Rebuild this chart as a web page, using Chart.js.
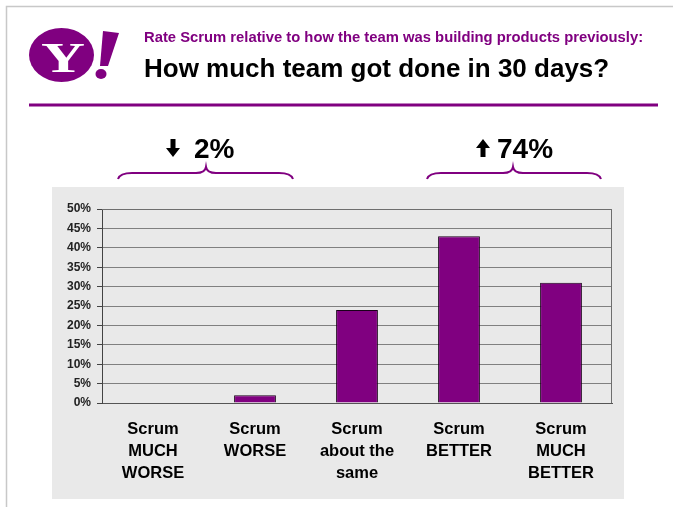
<!DOCTYPE html>
<html>
<head>
<meta charset="utf-8">
<script src="https://cdn.jsdelivr.net/npm/chart.js@4.4.0/dist/chart.umd.min.js"></script>
<style>
  html, body { margin: 0; padding: 0; background: #fff; }
  canvas { display: block; }
</style>
</head>
<body>
<canvas id="scrumChart" width="673" height="507"></canvas>
<script>
// DATA
const categories = [
    ['Scrum', 'MUCH', 'WORSE'],
    ['Scrum', 'WORSE'],
    ['Scrum', 'about the', 'same'],
    ['Scrum', 'BETTER'],
    ['Scrum', 'MUCH', 'BETTER']
];
const shares = [0, 2, 24, 43, 31];
const yMax = 50;
const yStep = 5;
const subtitle = 'Rate Scrum relative to how the team was building products previously:';
const title = 'How much team got done in 30 days?';
const groupTotals = ['2%', '74%'];
const groupDirections = ['down', 'up'];

const purple = '#800080';
const font = '"Liberation Sans", Arial, sans-serif';

// arrow for the group totals
const drawArrow = (c, x, top, dir) => {
    const w = 14, h = 18, shaft = 5, head = 9;
    c.beginPath();
    if (dir === 'down') {
        c.moveTo(x + w / 2 - shaft / 2, top);
        c.lineTo(x + w / 2 + shaft / 2, top);
        c.lineTo(x + w / 2 + shaft / 2, top + h - head);
        c.lineTo(x + w, top + h - head);
        c.lineTo(x + w / 2, top + h);
        c.lineTo(x, top + h - head);
        c.lineTo(x + w / 2 - shaft / 2, top + h - head);
    } else {
        c.moveTo(x + w / 2 - shaft / 2, top + h);
        c.lineTo(x + w / 2 + shaft / 2, top + h);
        c.lineTo(x + w / 2 + shaft / 2, top + head);
        c.lineTo(x + w, top + head);
        c.lineTo(x + w / 2, top);
        c.lineTo(x, top + head);
        c.lineTo(x + w / 2 - shaft / 2, top + head);
    }
    c.closePath();
    c.fillStyle = '#000';
    c.fill();
};

// curly brace over a group of bars
const drawBrace = (c, x1, x2, tip) => {
    const yEnd = 179, yMid = 173, yTip = 167;
    c.beginPath();
    c.moveTo(x1, yEnd);
    c.quadraticCurveTo(x1 + 2, yMid, x1 + 14, yMid);
    c.lineTo(tip - 10, yMid);
    c.quadraticCurveTo(tip - 1, yMid, tip, yTip);
    c.quadraticCurveTo(tip + 1, yMid, tip + 10, yMid);
    c.lineTo(x2 - 14, yMid);
    c.quadraticCurveTo(x2 - 2, yMid, x2, yEnd);
    c.strokeStyle = purple;
    c.lineWidth = 2;
    c.stroke();
};

const slidePlugin = {
    id: 'slide',
    beforeDraw(chart) {
        const c = chart.ctx;
        c.save();
        // frame
        c.strokeStyle = '#c8c8c8';
        c.lineWidth = 1.5;
        c.beginPath();
        c.moveTo(6.5, 507);
        c.lineTo(6.5, 6.5);
        c.lineTo(673, 6.5);
        c.stroke();

        // logo
        c.fillStyle = purple;
        c.beginPath();
        c.ellipse(61.5, 55, 32.5, 27, 0, 0, Math.PI * 2);
        c.fill();
        c.beginPath();
        c.moveTo(103, 31);
        c.lineTo(119, 33);
        c.lineTo(108, 66);
        c.lineTo(100, 66);
        c.closePath();
        c.fill();
        c.beginPath();
        c.ellipse(101, 74, 5.5, 5, 0, 0, Math.PI * 2);
        c.fill();
        c.save();
        c.translate(63, 72);
        c.scale(1.45, 1);
        c.fillStyle = '#fff';
        c.font = 'bold 42px "Liberation Serif", serif';
        c.textAlign = 'center';
        c.textBaseline = 'alphabetic';
        c.fillText('Y', 0, 0);
        c.restore();

        // headings
        c.textAlign = 'left';
        c.textBaseline = 'alphabetic';
        c.fillStyle = purple;
        c.font = 'bold 14.8px ' + font;
        c.fillText(subtitle, 144, 42);
        c.fillStyle = '#000';
        c.font = 'bold 26px ' + font;
        c.fillText(title, 144, 77);

        c.fillStyle = purple;
        c.fillRect(29, 103.5, 629, 3);

        // group totals
        drawArrow(c, 166, 139, groupDirections[0]);
        drawArrow(c, 476, 139, groupDirections[1]);
        c.fillStyle = '#000';
        c.font = 'bold 28px ' + font;
        c.fillText(groupTotals[0], 194, 158);
        c.fillText(groupTotals[1], 497, 158);
        drawBrace(c, 118, 293, 206);
        drawBrace(c, 427, 601, 513);

        // grey panel
        c.fillStyle = '#e9e9e9';
        c.fillRect(52, 187, 572, 312);
        c.restore();
    },
    beforeDatasetsDraw(chart) {
        const a = chart.chartArea;
        const c = chart.ctx;
        c.save();
        c.strokeStyle = '#6e6e6e';
        c.lineWidth = 1;
        c.beginPath();
        c.moveTo(a.left, a.top + 0.5);
        c.lineTo(a.right - 0.5, a.top + 0.5);
        c.lineTo(a.right - 0.5, a.bottom);
        c.stroke();
        c.restore();
    }
};

const ctx = document.getElementById('scrumChart');
const scrumGraph = new Chart(ctx, {
    type: 'bar',
    data: {
        labels: categories,
        datasets: [{
            data: shares,
            backgroundColor: purple,
            borderColor: '#1a001a',
            borderWidth: 1,
            borderSkipped: 'bottom',
            barPercentage: 0.41,
            categoryPercentage: 1
        }]
    },
    options: {
        responsive: false,
        animation: false,
        layout: { padding: { top: 209, right: 61, bottom: 0, left: 0 } },
        plugins: {
            legend: { display: false },
            tooltip: { enabled: false }
        },
        scales: {
            x: {
                grid: { display: false, drawTicks: false },
                border: { color: '#555', width: 1 },
                ticks: {
                    padding: 16,
                    color: '#000',
                    maxRotation: 0,
                    autoSkip: false,
                    font: { family: font, size: 16.5, weight: 'bold', lineHeight: 1.32 }
                },
                afterFit: (scale) => { scale.height = 104; }
            },
            y: {
                min: 0,
                max: yMax,
                grid: { color: '#808080', lineWidth: 1, tickLength: 5, tickColor: '#444' },
                border: { color: '#444', width: 1 },
                ticks: {
                    stepSize: yStep,
                    padding: 6,
                    color: '#222',
                    font: { family: font, size: 12, weight: 'bold' },
                    callback: (v) => v + '%'
                },
                afterFit: (scale) => { scale.width = 102; }
            }
        }
    },
    plugins: [slidePlugin]
});
</script>
</body>
</html>
